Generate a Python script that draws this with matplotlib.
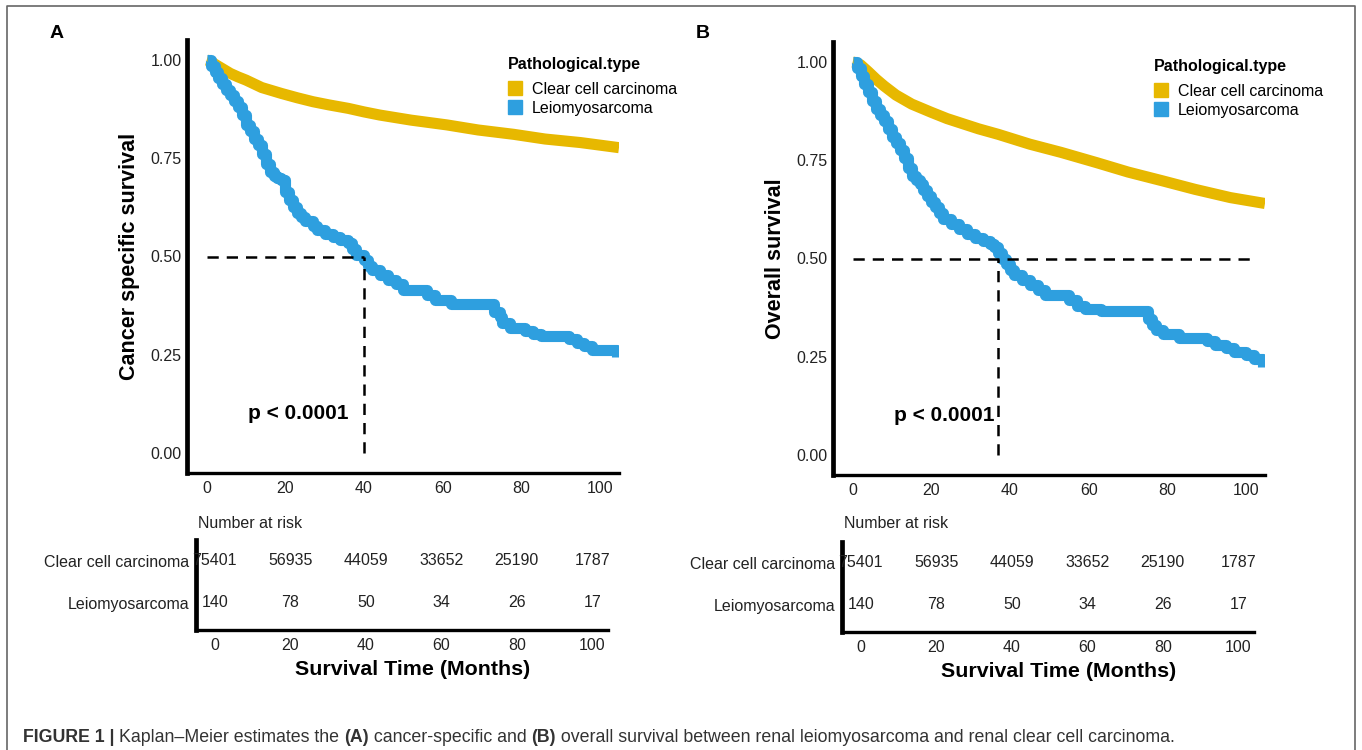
import matplotlib
matplotlib.use('Agg')
import matplotlib.pyplot as plt
from matplotlib.lines import Line2D

W, H = 1362, 750
YELLOW = '#E7B800'
BLUE = '#2E9FDF'
plt.rcParams['font.family'] = ['Liberation Sans', 'DejaVu Sans']

groups = ['Clear cell carcinoma', 'Leiomyosarcoma']
risk_times = [0, 20, 40, 60, 80, 100]
risk_ccc = [75401, 56935, 44059, 33652, 25190, 1787]
risk_lms = [140, 78, 50, 34, 26, 17]

# panel A: cancer specific survival
css_ccc_t = [0, 1, 2, 4, 6, 8, 10, 14, 19, 23, 27, 31, 36, 40, 44, 52, 61, 69, 78, 86, 95, 104.8]
css_ccc_s = [1.0, 0.997, 0.99, 0.978, 0.966, 0.957, 0.949, 0.93, 0.915, 0.904, 0.894, 0.886,
             0.877, 0.868, 0.86, 0.847, 0.835, 0.822, 0.811, 0.799, 0.79, 0.777]
css_lms_t = [0, 1, 2, 3, 4, 5, 6, 7, 8, 9, 10, 11, 12, 13, 14, 15, 16, 17, 18, 19,
             20, 21, 22, 23, 24, 25, 27, 28, 30, 32, 34, 36, 37, 38, 40, 41, 42, 44,
             46, 48, 50, 56, 58, 62, 73, 74.5, 75, 77, 81, 83, 85, 92, 94, 96, 98, 104.3]
css_lms_s = [1.0, 0.985, 0.97, 0.955, 0.94, 0.925, 0.91, 0.895, 0.88, 0.86, 0.835, 0.82,
             0.80, 0.785, 0.76, 0.735, 0.715, 0.705, 0.70, 0.695, 0.665, 0.645, 0.625,
             0.61, 0.60, 0.59, 0.578, 0.568, 0.558, 0.55, 0.543, 0.535, 0.52, 0.505,
             0.49, 0.475, 0.465, 0.452, 0.44, 0.43, 0.415, 0.402, 0.39, 0.378, 0.36,
             0.345, 0.33, 0.318, 0.31, 0.303, 0.298, 0.29, 0.28, 0.272, 0.262, 0.245]
css_median = 40

# panel B: overall survival
os_ccc_t = [0, 1, 2, 4, 6, 8, 11, 15, 20, 24, 28, 32, 37, 45, 53, 62, 70, 79, 87, 96, 104.8]
os_ccc_s = [1.0, 0.998, 0.993, 0.975, 0.956, 0.939, 0.916, 0.893, 0.872, 0.856, 0.843, 0.83,
            0.816, 0.791, 0.77, 0.744, 0.72, 0.697, 0.676, 0.655, 0.64]
os_lms_t = [0, 1, 2, 3, 4, 5, 6, 7, 8, 9, 10, 11, 12, 13, 14, 15, 16, 17, 18, 19,
            20, 21, 22, 23, 25, 27, 29, 31, 33, 35, 36, 37, 38, 39, 40, 41, 43, 45,
            47, 49, 55, 57, 59, 63, 75, 76, 77, 79, 83, 90, 92, 95, 97, 100, 102, 104.3]
os_lms_s = [1.0, 0.985, 0.965, 0.945, 0.925, 0.90, 0.88, 0.865, 0.85, 0.83, 0.81, 0.795,
            0.775, 0.755, 0.73, 0.71, 0.70, 0.69, 0.675, 0.66, 0.645, 0.63, 0.615, 0.60,
            0.588, 0.575, 0.562, 0.552, 0.545, 0.538, 0.528, 0.515, 0.50, 0.485, 0.47,
            0.458, 0.445, 0.432, 0.42, 0.408, 0.395, 0.38, 0.372, 0.366, 0.345, 0.33,
            0.318, 0.308, 0.298, 0.29, 0.28, 0.272, 0.262, 0.255, 0.245, 0.225]
os_median = 37

fig = plt.figure(figsize=(W / 100, H / 100), dpi=100)
fig.patch.set_facecolor('white')


def px_axes(left, top, right, bottom):
    """Axes placed by pixel edges (origin top-left)."""
    return fig.add_axes([left / W, 1 - bottom / H, (right - left) / W, (bottom - top) / H])


DASH = (0, (4.5, 3.2))
TXT = '#222'


def draw_panel(dx, dy, letter, ylabel, t_ccc, s_ccc, t_lms, s_lms, median, hline_end):
    ax = px_axes(187 + dx, 40.4 + dy, 619 + dx, 472.6 + dy)
    ax.plot(t_ccc, s_ccc, color=YELLOW, lw=8, solid_capstyle='butt')
    ax.step(t_lms, s_lms, where='post', color=BLUE, lw=8, solid_capstyle='butt',
            solid_joinstyle='round')
    ax.plot([0, hline_end], [0.5, 0.5], color='black', lw=1.8, ls=DASH, zorder=4)
    ax.plot([median, median], [0, 0.5], color='black', lw=1.8, ls=DASH, zorder=4)
    ax.set_xlim(-5, 104.8)
    ax.set_ylim(-0.05, 1.05)
    ax.set_xticks(risk_times)
    ax.set_yticks([0, 0.25, 0.5, 0.75, 1.0])
    ax.set_yticklabels(['0.00', '0.25', '0.50', '0.75', '1.00'])
    ax.tick_params(length=0, labelsize=11.5, colors=TXT)
    ax.tick_params(axis='x', pad=6)
    ax.tick_params(axis='y', pad=4)
    for s in ['top', 'right']:
        ax.spines[s].set_visible(False)
    ax.spines['left'].set_linewidth(3.4)
    ax.spines['bottom'].set_linewidth(2.4)
    ax.set_ylabel(ylabel, fontsize=15.5, fontweight='bold')
    ax.yaxis.set_label_coords(-0.108, 0.5)
    ax.text(10.5, 0.10, 'p < 0.0001', ha='left', va='center', fontsize=15,
            fontweight='bold')

    # legend: title placed on its own, entries below
    fig.text((508 + dx) / W, 1 - (64 + dy) / H, 'Pathological.type', ha='left',
             va='center', fontsize=11.5, fontweight='bold')
    handles = [Line2D([], [], marker='s', ls='none', color=c, markersize=9.5)
               for c in (YELLOW, BLUE)]
    ax.legend(handles, groups, loc='upper left',
              bbox_to_anchor=((508 + dx) / W, 1 - (82 + dy) / H),
              bbox_transform=fig.transFigure, frameon=False,
              borderpad=0, borderaxespad=0, handlelength=0.9, handletextpad=0.6,
              labelspacing=0.22, fontsize=11.5)

    fig.text((57 + dx) / W, 1 - 33 / H, letter, ha='center', va='center',
             fontsize=14, fontweight='bold')

    # number at risk table
    rx = px_axes(196 + dx, 540 + dy, 608 + dx, 630 + dy)
    for yv, vals in zip([2, 1], [risk_ccc, risk_lms]):
        for t, v in zip(risk_times, vals):
            rx.text(t, yv, str(v), ha='center', va='center', fontsize=11.5, color=TXT)
    rx.set_xlim(-5, 104.2)
    rx.set_ylim(0.357, 2.5)
    rx.set_xticks(risk_times)
    rx.set_yticks([2, 1])
    rx.set_yticklabels(groups)
    rx.tick_params(length=0, labelsize=11.5, colors=TXT)
    rx.tick_params(axis='x', pad=6)
    rx.tick_params(axis='y', pad=5)
    for s in ['top', 'right']:
        rx.spines[s].set_visible(False)
    rx.spines['left'].set_linewidth(3.4)
    rx.spines['bottom'].set_linewidth(2.4)
    rx.set_xlabel('Survival Time (Months)', fontsize=15.4, fontweight='bold')
    rx.xaxis.set_label_coords(0.527, -0.33)
    fig.text((198 + dx) / W, 1 - 523 / H, 'Number at risk', ha='left', va='center',
             fontsize=11.5, color=TXT)


draw_panel(0, 0, 'A', 'Cancer specific survival', css_ccc_t, css_ccc_s,
           css_lms_t, css_lms_s, css_median, css_median)
draw_panel(646, 2, 'B', 'Overall survival', os_ccc_t, os_ccc_s,
           os_lms_t, os_lms_s, os_median, 102.5)

# frame around the figure (open at the bottom)
frame = fig.add_axes([0, 0, 1, 1], zorder=-1)
frame.set_xlim(0, W)
frame.set_ylim(H, 0)
frame.axis('off')
frame.plot([7, 7, 1355, 1355], [H, 6, 6, H], color='#666', lw=1.2)

# caption with mixed weights
pieces = [('FIGURE 1 | ', 'bold'), ('Kaplan\u2013Meier estimates the ', 'normal'),
          ('(A)', 'bold'), (' cancer-specific and ', 'normal'), ('(B)', 'bold'),
          (' overall survival between renal leiomyosarcoma and renal clear cell carcinoma.',
           'normal')]
renderer = fig.canvas.get_renderer()
x = 23
for txt, wt in pieces:
    t = frame.text(x, 737, txt, ha='left', va='center', fontsize=12.8,
                   fontweight=wt, color='#333')
    x += t.get_window_extent(renderer).width

fig.savefig('out.png', dpi=100, facecolor='white')
